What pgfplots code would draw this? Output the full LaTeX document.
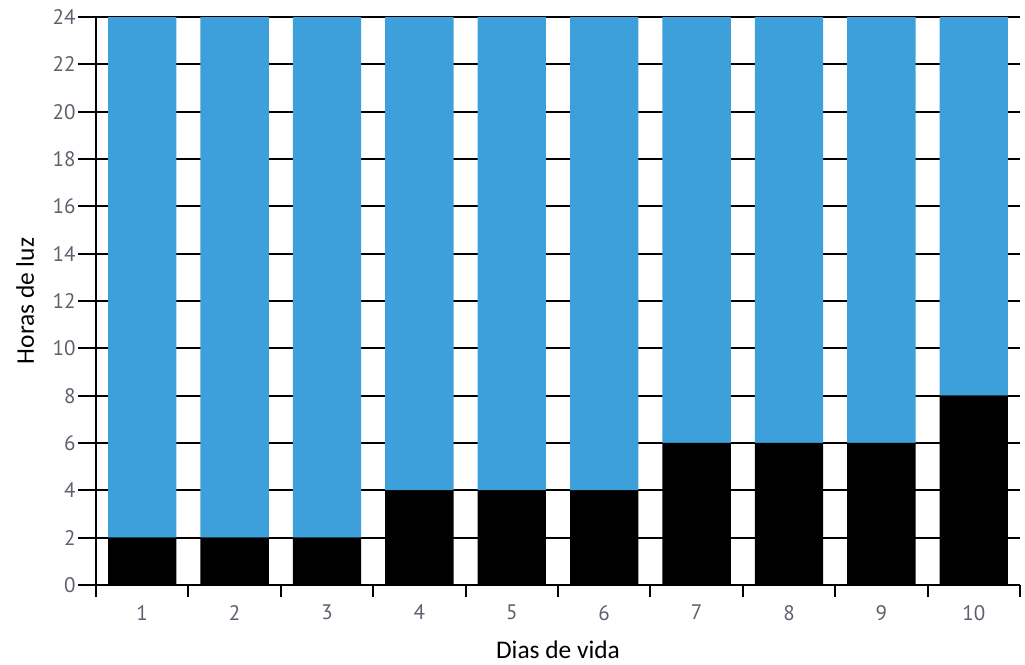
\documentclass[border=0pt]{standalone}
\usepackage{fontspec}
\setmainfont{Carlito}
\newfontfamily\tickfont{PT Sans}
\usepackage{pgfplots}
\pgfplotsset{compat=1.18}
\definecolor{barblue}{RGB}{61,160,219}
\definecolor{tickgray}{RGB}{95,95,110}
\begin{document}
\begin{tikzpicture}
\path[use as bounding box] (-48pt,-40pt) rectangle (464.5pt,292.5pt);
\begin{axis}[
  at={(0pt,0pt)}, anchor=south west,
  scale only axis, width=462pt, height=284pt,
  xmin=0.5, xmax=10.5, ymin=0, ymax=24,
  ybar stacked, bar width=0.74,
  axis lines*=left,
  xtick={0.5,1.5,...,10.5},
  x tick label as interval,
  xticklabels={1,2,3,4,5,6,7,8,9,10},
  ytick={0,2,...,24},
  ymajorgrids,
  grid style={black, line width=1pt},
  tick align=outside,
  major tick length=9pt,
  xtick style={/pgfplots/major tick length=6pt},
  tick style={black, line width=1pt},
  axis line style={black, line width=1pt},
  tick label style={font=\tickfont\fontsize{10.5}{12}\selectfont, text=tickgray},
  yticklabel style={inner sep=1pt},
  xticklabel style={yshift=2.5pt},
  /pgf/number format/assume math mode=true,
  xlabel={Dias de vida},
  ylabel={Horas de luz},
  label style={font=\fontsize{12.7}{15}\selectfont},
  xlabel style={at={(axis description cs:0.5,-0.1144)}, anchor=center},
  ylabel style={at={(axis description cs:-0.0768,0.5)}, anchor=center},
]
\addplot[fill=black, draw=none] coordinates {(1,2) (2,2) (3,2) (4,4) (5,4) (6,4) (7,6) (8,6) (9,6) (10,8)};
\addplot[fill=barblue, draw=none] coordinates {(1,22) (2,22) (3,22) (4,20) (5,20) (6,20) (7,18) (8,18) (9,18) (10,16)};
\end{axis}
\end{tikzpicture}
\end{document}
